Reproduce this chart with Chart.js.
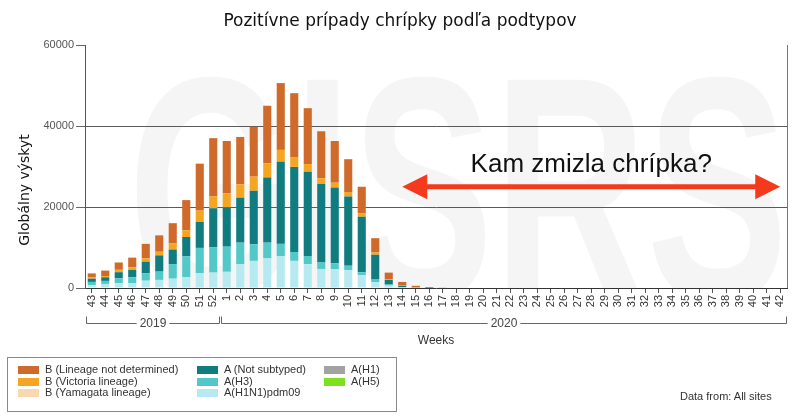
<!DOCTYPE html>
<html>
<head>
<meta charset="utf-8">
<script src="https://cdn.jsdelivr.net/npm/chart.js@4.4.0/dist/chart.umd.min.js"></script>
<style>
  body { margin: 0; background: #fff; }
  #wrap { position: relative; width: 800px; height: 418px; overflow: hidden; font-family: 'Liberation Sans', Arial, sans-serif; }
  #graf { position: absolute; left: 0; top: 0; }
  #titulo { position: absolute; left: 0; top: 10px; width: 800px; text-align: center; font: 17px 'DejaVu Sans'; line-height: 20px; color: #111; }
  #leyenda { position: absolute; left: 7px; top: 357px; width: 390px; height: 55px; border: 1px solid #8a8a8a; box-sizing: border-box; }
  .item { position: absolute; font-size: 11px; line-height: 12px; color: #333; white-space: nowrap; }
  .item span { display: inline-block; width: 21px; height: 8px; margin-right: 6px; vertical-align: -1px; }
  #fuente { position: absolute; left: 680px; top: 390px; font-size: 11px; line-height: 12px; color: #333; }
</style>
</head>
<body>
<div id="wrap">
  <canvas id="graf" width="800" height="418"></canvas>
  <div id="titulo">Pozitívne prípady chrípky podľa podtypov</div>
  <div id="leyenda"></div>
  <div id="fuente">Data from: All sites</div>
</div>
<script>
// semanas 43-52 de 2019 y 1-42 de 2020
const semanas = ['43','44','45','46','47','48','49','50','51','52',
  '1','2','3','4','5','6','7','8','9','10','11','12','13','14','15','16','17','18','19','20','21',
  '22','23','24','25','26','27','28','29','30','31','32','33','34','35','36','37','38','39','40','41','42'];
const anios = ['2019', '2020'];
const ticksY = [0, 20000, 40000, 60000];

// valores
const h1n1pdm09 = [700,1000,1200,1150,1800,2000,2300,2700,3700,3800,
  4000,5900,6700,7300,7900,6700,5900,4700,4600,4400,3200,1400,600,150,50,0,0,0,0,0,0,
  0,0,0,0,0,0,0,0,0,0,0,0,0,0,0,0,0,0,0,0,0];
const h3 = [800,750,1200,1500,1800,2050,3600,5100,6200,6300,
  6200,5300,4100,3900,3000,2200,2000,1600,1500,1100,700,700,250,100,50,0,0,0,0,0,0,
  0,0,0,0,0,0,0,0,0,0,0,0,0,0,0,0,0,0,0,0,0];
const noSubtipado = [800,900,1500,1800,2900,4000,3600,4800,6400,9600,
  9700,11100,13200,16100,20300,21000,20800,19400,18700,17100,13700,6100,1150,300,100,50,0,0,0,0,0,
  0,0,0,0,0,0,0,0,0,0,0,0,0,0,0,0,0,0,0,0,0];
const h1 = [0,0,0,0,0,0,0,0,0,0,
  0,0,0,0,0,0,0,0,0,0,0,0,0,0,0,0,0,0,0,0,0,
  0,0,0,0,0,0,0,0,0,0,0,0,0,0,0,0,0,0,0,0,0];
const h5 = [0,0,0,0,0,0,0,0,0,0,
  0,0,0,0,0,0,0,0,0,0,0,0,0,0,0,0,0,0,0,0,0,
  0,0,0,0,0,0,0,0,0,0,0,0,0,0,0,0,0,0,0,0,0];
const yamagata = [0,0,0,0,0,0,0,0,0,0,
  0,0,0,0,0,0,0,0,0,0,0,0,0,0,0,0,0,0,0,0,0,
  0,0,0,0,0,0,0,0,0,0,0,0,0,0,0,0,0,0,0,0,0];
const victoria = [300,300,600,650,800,900,1500,1650,2800,2900,
  3500,3300,3500,3500,2900,2300,1900,1400,1200,1100,800,600,150,100,50,0,0,0,0,0,0,
  0,0,0,0,0,0,0,0,0,0,0,0,0,0,0,0,0,0,0,0,0];
const bSinLinaje = [1000,1350,1800,2400,3600,4050,5000,7450,11600,14400,
  12900,11700,12300,14200,16500,15900,13800,11600,10300,8100,6600,3500,1650,850,300,150,80,0,0,0,0,
  0,0,0,0,0,0,0,0,0,0,0,0,0,0,0,0,0,0,0,0,0];

// orden de apilado: de abajo hacia arriba
const series = [
  { label: 'A(H1N1)pdm09', data: h1n1pdm09, color: '#b6eaf0', col: 1, fila: 2 },
  { label: 'A(H3)', data: h3, color: '#52c8c9', col: 1, fila: 1 },
  { label: 'A (Not subtyped)', data: noSubtipado, color: '#107c80', col: 1, fila: 0 },
  { label: 'A(H1)', data: h1, color: '#a3a3a3', col: 2, fila: 0 },
  { label: 'A(H5)', data: h5, color: '#7fe021', col: 2, fila: 1 },
  { label: 'B (Yamagata lineage)', data: yamagata, color: '#f8d8b0', col: 0, fila: 2 },
  { label: 'B (Victoria lineage)', data: victoria, color: '#f6a521', col: 0, fila: 1 },
  { label: 'B (Lineage not determined)', data: bSinLinaje, color: '#cf6a2a', col: 0, fila: 0 }
];

// leyenda
const colX = [10, 189, 316];
const filaY = [5, 17, 28];
const leyenda = document.getElementById('leyenda');
series.forEach(s => {
  const d = document.createElement('div');
  d.className = 'item';
  d.style.left = colX[s.col] + 'px';
  d.style.top = filaY[s.fila] + 'px';
  d.innerHTML = `<span style="background:${s.color}"></span>${s.label}`;
  leyenda.appendChild(d);
});

const rojo = '#f43a1d';

const decoraciones = {
  id: 'decoraciones',
  beforeDraw(chart) {
    const { ctx, chartArea } = chart;
    ctx.save();
    ctx.beginPath();
    ctx.rect(chartArea.left, chartArea.top, chartArea.right - chartArea.left, chartArea.bottom - chartArea.top);
    ctx.clip();
    ctx.fillStyle = 'rgba(0,0,0,0.038)';
    ctx.font = 'bold 320px "Liberation Sans"';
    ctx.textAlign = 'center';
    ctx.textBaseline = 'alphabetic';
    ctx.fillText('GISRS', 458, 300, 660);
    ctx.restore();
  },
  afterDraw(chart) {
    const { ctx, chartArea } = chart;
    const x = chart.scales.x;
    const y = chart.scales.y;
    ctx.save();

    // borde derecho
    ctx.strokeStyle = '#777';
    ctx.lineWidth = 1;
    ctx.beginPath();
    ctx.moveTo(chartArea.right + 0.5, chartArea.top);
    ctx.lineTo(chartArea.right + 0.5, chartArea.bottom);
    ctx.stroke();

    // título eje Y
    ctx.save();
    ctx.translate(25, 190);
    ctx.rotate(-Math.PI / 2);
    ctx.fillStyle = '#111';
    ctx.font = '14px "DejaVu Sans"';
    ctx.textAlign = 'center';
    ctx.textBaseline = 'middle';
    ctx.fillText('Globálny výskyt', 0, 0);
    ctx.restore();

    // llaves de años
    const mitad = (x.getPixelForValue(1) - x.getPixelForValue(0)) / 2;
    const corte = semanas.indexOf('1');
    const rangos = [[0, corte - 1], [corte, semanas.length - 1]];
    ctx.font = '12px "Liberation Sans"';
    ctx.textAlign = 'center';
    ctx.textBaseline = 'middle';
    rangos.forEach((r, i) => {
      const x0 = Math.round(x.getPixelForValue(r[0]) - mitad + 1) + 0.5;
      const x1 = Math.round(x.getPixelForValue(r[1]) + mitad - 1) + 0.5;
      const yy = 323.5;
      ctx.strokeStyle = '#666';
      ctx.beginPath();
      ctx.moveTo(x0, yy - 7);
      ctx.lineTo(x0, yy);
      ctx.lineTo(x1, yy);
      ctx.lineTo(x1, yy - 7);
      ctx.stroke();
      const cx = (x0 + x1) / 2;
      const w = ctx.measureText(anios[i]).width;
      ctx.fillStyle = '#fff';
      ctx.fillRect(cx - w / 2 - 3, yy - 7, w + 6, 14);
      ctx.fillStyle = '#444';
      ctx.fillText(anios[i], cx, yy);
    });

    // título eje X
    ctx.fillStyle = '#333';
    ctx.font = '12px "Liberation Sans"';
    ctx.fillText('Weeks', (chartArea.left + chartArea.right) / 2, 341);

    // flecha
    const xa = x.getPixelForValue(semanas.indexOf('14'));
    const xb = x.getPixelForValue(semanas.indexOf('42'));
    const ya = y.getPixelForValue(25000);
    ctx.strokeStyle = rojo;
    ctx.fillStyle = rojo;
    ctx.lineWidth = 5;
    ctx.beginPath();
    ctx.moveTo(xa + 20, ya);
    ctx.lineTo(xb - 20, ya);
    ctx.stroke();
    ctx.beginPath();
    ctx.moveTo(xa, ya);
    ctx.lineTo(xa + 25, ya - 12.5);
    ctx.lineTo(xa + 25, ya + 12.5);
    ctx.closePath();
    ctx.fill();
    ctx.beginPath();
    ctx.moveTo(xb, ya);
    ctx.lineTo(xb - 25, ya - 12.5);
    ctx.lineTo(xb - 25, ya + 12.5);
    ctx.closePath();
    ctx.fill();

    ctx.fillStyle = '#111';
    ctx.font = '26px "Liberation Sans"';
    ctx.textAlign = 'center';
    ctx.textBaseline = 'alphabetic';
    ctx.fillText('Kam zmizla chrípka?', (xa + xb) / 2, ya - 15);

    ctx.restore();
  }
};

new Chart(document.getElementById('graf'), {
  type: 'bar',
  data: {
    labels: semanas,
    datasets: series.map(s => ({
      label: s.label,
      data: s.data,
      backgroundColor: s.color,
      borderWidth: 0,
      barPercentage: 0.6,
      categoryPercentage: 1.0
    }))
  },
  options: {
    responsive: false,
    animation: false,
    layout: { padding: { top: 45, right: 13, bottom: 0, left: 0 } },
    plugins: {
      legend: { display: false },
      tooltip: { enabled: false }
    },
    scales: {
      x: {
        stacked: true,
        grid: { drawOnChartArea: false, offset: false, tickLength: 5, color: '#555' },
        border: { color: '#333' },
        ticks: {
          autoSkip: false, maxRotation: 90, minRotation: 90, padding: 2,
          color: '#333', font: { family: 'Liberation Sans', size: 11 }
        },
        afterFit: s => { s.height = 130; }
      },
      y: {
        stacked: true,
        min: 0,
        max: 60000,
        afterBuildTicks: s => { s.ticks = ticksY.map(v => ({ value: v })); },
        grid: {
          color: c => (c.tick && (c.tick.value === 20000 || c.tick.value === 40000)) ? '#5a5a5a' : 'rgba(0,0,0,0)',
          tickColor: '#666',
          tickLength: 9
        },
        border: { color: '#555' },
        ticks: {
          padding: 2,
          color: '#555',
          font: { family: 'Liberation Sans', size: 11 },
          callback: v => String(v)
        },
        afterFit: s => { s.width = 85; }
      }
    }
  },
  plugins: [decoraciones]
});
</script>
</body>
</html>
